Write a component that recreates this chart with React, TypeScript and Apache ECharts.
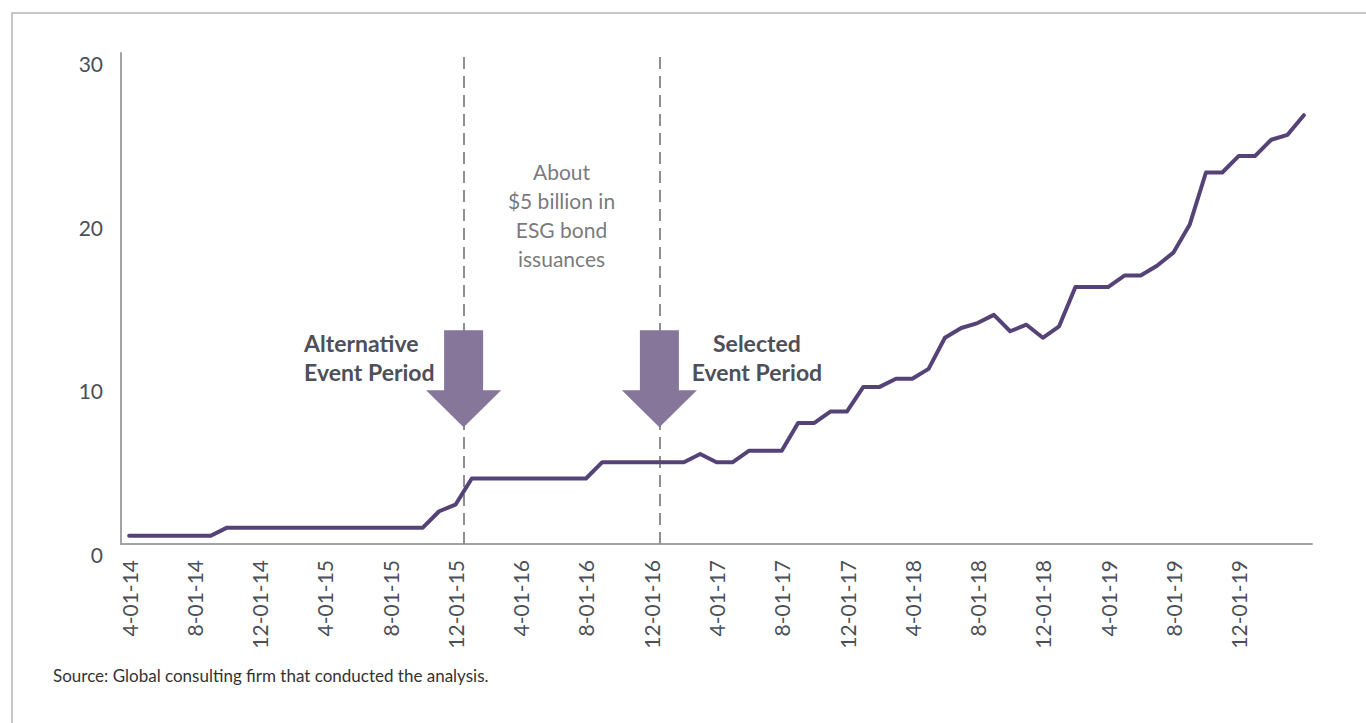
import { useEffect, useRef } from 'react';
import * as echarts from 'echarts';

const categories = [
  '4-01-14', '5-01-14', '6-01-14', '7-01-14', '8-01-14', '9-01-14', '10-01-14', '11-01-14', '12-01-14',
  '1-01-15', '2-01-15', '3-01-15', '4-01-15', '5-01-15', '6-01-15', '7-01-15', '8-01-15', '9-01-15', '10-01-15', '11-01-15', '12-01-15',
  '1-01-16', '2-01-16', '3-01-16', '4-01-16', '5-01-16', '6-01-16', '7-01-16', '8-01-16', '9-01-16', '10-01-16', '11-01-16', '12-01-16',
  '1-01-17', '2-01-17', '3-01-17', '4-01-17', '5-01-17', '6-01-17', '7-01-17', '8-01-17', '9-01-17', '10-01-17', '11-01-17', '12-01-17',
  '1-01-18', '2-01-18', '3-01-18', '4-01-18', '5-01-18', '6-01-18', '7-01-18', '8-01-18', '9-01-18', '10-01-18', '11-01-18', '12-01-18',
  '1-01-19', '2-01-19', '3-01-19', '4-01-19', '5-01-19', '6-01-19', '7-01-19', '8-01-19', '9-01-19', '10-01-19', '11-01-19', '12-01-19',
  '1-01-20', '2-01-20', '3-01-20', '4-01-20',
];

const esgIssuance = [
  0.5, 0.5, 0.5, 0.5, 0.5, 0.5,
  1.0, 1.0, 1.0, 1.0, 1.0, 1.0, 1.0, 1.0, 1.0, 1.0, 1.0, 1.0, 1.0,
  2.0, 2.4,
  4.0, 4.0, 4.0, 4.0, 4.0, 4.0, 4.0, 4.0,
  5.0, 5.0, 5.0, 5.0, 5.0, 5.0,
  5.5, 5.0, 5.0,
  5.7, 5.7, 5.7,
  7.4, 7.4, 8.1, 8.1, 9.6, 9.6, 10.1, 10.1, 10.7,
  12.6, 13.2, 13.5, 14.0, 13.0, 13.4, 12.6, 13.3,
  15.7, 15.7, 15.7, 16.4, 16.4, 17.0, 17.8, 19.5,
  22.7, 22.7, 23.7, 23.7, 24.7, 25.0, 26.2,
];

const yMin = 0;
const yMax = 30;
const yStep = 10;

const eventAfter = ['12-01-15', '12-01-16'];
const eventLabels = ['Alternative\nEvent Period', 'Selected\nEvent Period'];
const arrowLevel = 10.1;
const noteLevel = 20.1;
const noteText = 'About\n$5 billion in\nESG bond\nissuances';
const sourceText = 'Source: Global consulting firm that conducted the analysis.';

const FONT = 'Lato, "Open Sans", "DejaVu Sans", sans-serif';
const ARROW = 'path://M18,0 L57,0 L57,60 L75,60 L37.5,97 L0,60 L18,60 Z';

export default function App() {
  const ref = useRef<HTMLDivElement>(null);

  useEffect(() => {
    if (!ref.current) return;
    const chart = echarts.init(ref.current, null, { renderer: 'svg' });
    const boundaries = eventAfter.map((c) => categories.indexOf(c) + 0.5);
    const noteX = (boundaries[0] + boundaries[1]) / 2;

    chart.setOption({
      animation: false,
      backgroundColor: '#ffffff',
      textStyle: { fontFamily: FONT },
      grid: { left: 121, right: 54, top: 53, bottom: 179, containLabel: false, outerBoundsMode: 'none' },
      xAxis: [
        {
          type: 'category',
          data: categories,
          boundaryGap: true,
          axisLine: { show: true, onZero: false, lineStyle: { color: '#a2a2a7', width: 2 } },
          axisTick: { show: false },
          splitLine: { show: false },
          axisLabel: {
            rotate: 90,
            margin: 16,
            fontSize: 21,
            color: '#4b4f58',
            fontFamily: FONT,
            interval: (i: number) => i % 4 === 0 && i < categories.length - 1,
          },
        },
        {
          type: 'value',
          min: -0.5,
          max: categories.length - 0.5,
          show: false,
          splitLine: { show: false },
        },
      ],
      yAxis: {
        type: 'value',
        min: yMin,
        max: yMax,
        interval: yStep,
        axisLine: { show: true, onZero: false, lineStyle: { color: '#a2a2a7', width: 2 } },
        axisTick: { show: false },
        splitLine: { show: false },
        axisLabel: {
          fontSize: 21,
          color: '#4b4f58',
          margin: 18,
          verticalAlign: 'top',
          fontFamily: FONT,
        },
      },
      series: [
        {
          type: 'line',
          data: esgIssuance,
          xAxisIndex: 0,
          showSymbol: false,
          symbol: 'none',
          z: 3,
          lineStyle: { color: '#554378', width: 4, join: 'round', cap: 'round' },
        },
        {
          type: 'scatter',
          xAxisIndex: 1,
          z: 4,
          symbol: ARROW,
          symbolSize: [75, 97],
          itemStyle: { color: '#85769a', opacity: 1 },
          silent: true,
          data: boundaries.map((b, i) => ({
            value: [b, arrowLevel],
            label: {
              show: true,
              formatter: eventLabels[i],
              position: i === 0 ? [-122, 27.5] : [135, 27.5],
              align: i === 0 ? 'left' : 'center',
              verticalAlign: 'middle',
              fontSize: 23,
              fontWeight: 'bold',
              lineHeight: 29,
              color: '#4d5059',
              fontFamily: FONT,
            },
          })),
          markLine: {
            silent: true,
            z: 1,
            symbol: ['none', 'none'],
            label: { show: false },
            lineStyle: { color: '#8e8e93', width: 2, type: [12, 7] },
            data: boundaries.map((b) => ({ xAxis: b })),
          },
        },
        {
          type: 'scatter',
          xAxisIndex: 1,
          z: 4,
          symbol: 'circle',
          symbolSize: 1,
          silent: true,
          itemStyle: { color: 'rgba(0,0,0,0)' },
          data: [
            {
              value: [noteX, noteLevel],
              label: {
                show: true,
                formatter: noteText,
                position: 'inside',
                align: 'center',
                verticalAlign: 'middle',
                fontSize: 21,
                lineHeight: 28.7,
                color: '#54565c',
                fontFamily: FONT,
              },
            },
          ],
        },
      ],
      graphic: [
        {
          type: 'polyline',
          silent: true,
          shape: { points: [[12, 723], [12, 13], [1366, 13]] },
          style: { stroke: '#b5b5b5', lineWidth: 1.5, fill: 'none' },
        },
        {
          type: 'text',
          left: 53,
          top: 667,
          silent: true,
          style: { text: sourceText, fontSize: 17, fill: '#333333', fontFamily: FONT },
        },
      ],
    });

    return () => chart.dispose();
  }, []);

  return (
    <div
      ref={ref}
      style={{ position: 'absolute', left: 0, top: 0, width: 1366, height: 723 }}
    />
  );
}
